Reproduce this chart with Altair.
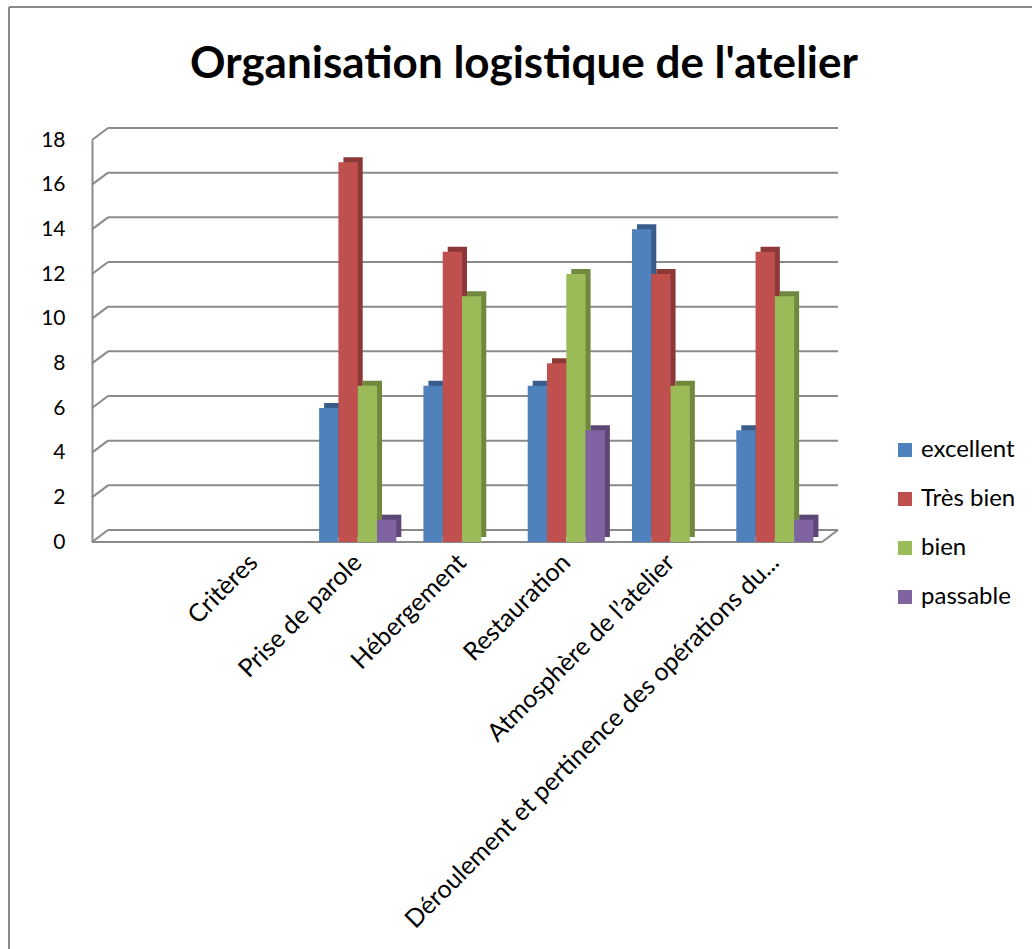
import altair as alt
import pandas as pd

categories = [" ", "Critères", "Prise de parole", "Hébergement", "Restauration",
              "Atmosphère de l’atelier", "Déroulement et pertinence des opérations du..."]
series = ["excellent", "Très bien", "bien", "passable"]
colors = ["#4F81BD", "#C0504D", "#9BBB59", "#8064A2"]
side_colors = ["#385D8A", "#8C3836", "#71893F", "#5C4776"]

# values per series, for categories after "Critères" (None = no bar)
cats_with_data = ["Prise de parole", "Hébergement", "Restauration",
                  "Atmosphère de l’atelier", "Déroulement et pertinence des opérations du..."]
excellent = [6, 7, 7, 14, 5]
tres_bien = [17, 13, 8, 12, 13]
bien = [7, 11, 12, 7, 11]
passable = [1, None, 5, None, 1]

y_ticks = [0, 2, 4, 6, 8, 10, 12, 14, 16, 18]

rows = []
for s, vals in zip(series, [excellent, tres_bien, bien, passable]):
    for c, v in zip(cats_with_data, vals):
        if v is not None:
            rows.append({"cat": c, "serie": s, "val": v})
df = pd.DataFrame(rows)
grid_df = pd.DataFrame({"v": y_ticks})

W, H = 730, 402
DX, DY = 16, -12
SHIFT = 5
P_IN, P_OUT = 0.26, 0.13
STEP = W / (len(categories) - P_IN + 2 * P_OUT)
BW = STEP * (1 - P_IN)
SIDE = 5

x_enc = alt.X("cat:N", sort=categories,
              scale=alt.Scale(domain=categories, paddingInner=P_IN, paddingOuter=P_OUT,
                              range=[SHIFT, W + SHIFT]),
              axis=alt.Axis(title=None, labelAngle=-45, labelAlign="right", labelBaseline="middle",
                            labelFontSize=25, labelFont="Lato", labelColor="#000000", labelPadding=16,
                            ticks=False, domain=False, labelLimit=1000))
y_scale = alt.Scale(domain=[0, 18], nice=False, zero=True)
y_axis = alt.Axis(title=None, values=y_ticks, grid=False, ticks=False, domain=True,
                  domainColor="#8a8a8a", domainWidth=2, labelFontSize=21, labelFont="Lato",
                  labelColor="#000000", labelPadding=27)
grey = "#8a8a8a"

# back-wall gridlines
grid = alt.Chart(grid_df).mark_rule(color=grey, strokeWidth=2, yOffset=DY).encode(
    y=alt.Y("v:Q", scale=y_scale, axis=y_axis),
    x=alt.value(DX), x2=alt.value(W + DX),
)
grid_diag = alt.Chart(grid_df).mark_rule(color=grey, strokeWidth=2, y2Offset=DY).encode(
    y=alt.Y("v:Q", scale=y_scale, axis=y_axis), y2="v:Q",
    x=alt.value(0), x2=alt.value(DX),
)
floor_front = alt.Chart(pd.DataFrame({"v": [0]})).mark_rule(color=grey, strokeWidth=2).encode(
    y=alt.Y("v:Q", scale=y_scale, axis=y_axis), x=alt.value(0), x2=alt.value(W),
)
floor_diag = alt.Chart(pd.DataFrame({"v": [0]})).mark_rule(color=grey, strokeWidth=2, y2Offset=DY).encode(
    y=alt.Y("v:Q", scale=y_scale, axis=y_axis), y2="v:Q", x=alt.value(W), x2=alt.value(W + DX),
)

side = alt.Chart(df).mark_bar(yOffset=-SIDE, y2Offset=-SIDE).encode(
    x=x_enc,
    xOffset=alt.XOffset("serie:N", sort=series,
                        scale=alt.Scale(domain=series, range=[SIDE, BW + SIDE], paddingInner=0, paddingOuter=0)),
    y=alt.Y("val:Q", scale=y_scale, axis=y_axis),
    color=alt.Color("serie:N", scale=alt.Scale(domain=series, range=side_colors), legend=None),
)

bars = alt.Chart(df).mark_bar().encode(
    x=x_enc,
    xOffset=alt.XOffset("serie:N", sort=series,
                        scale=alt.Scale(domain=series, range=[0, BW], paddingInner=0, paddingOuter=0)),
    y=alt.Y("val:Q", scale=y_scale, axis=y_axis),
    color=alt.Color("serie:N", scale=alt.Scale(domain=series, range=colors),
                    legend=alt.Legend(title=None, orient="none", legendX=801, legendY=298,
                                      symbolType="square", symbolSize=196, symbolStrokeWidth=0,
                                      labelFontSize=24, labelFont="Lato", labelColor="#000000",
                                      rowPadding=25, labelOffset=4)),
)

# outer frame of the chart area
frame_top = alt.Chart(pd.DataFrame({"v": [0]})).mark_rule(color=grey, strokeWidth=2).encode(
    x=alt.value(-83), x2=alt.value(1032 - 92), y=alt.value(-133),
)
frame_left = alt.Chart(pd.DataFrame({"v": [0]})).mark_rule(color=grey, strokeWidth=2).encode(
    x=alt.value(-83), y=alt.value(-133), y2=alt.value(949 - 140),
)

chart = alt.layer(frame_top, frame_left, grid, grid_diag, floor_front, floor_diag, side, bars).resolve_scale(
    color="independent", xOffset="independent"
).properties(
    width=W, height=H,
    title=alt.TitleParams("Organisation logistique de l'atelier", font="Lato", fontSize=44,
                          fontWeight="bold", color="#000000", anchor="middle", dx=67, dy=81, offset=0),
    autosize=alt.AutoSizeParams(type="none"),
    padding={"left": 92, "top": 140, "right": 210, "bottom": 407},
).configure_view(stroke=None)

chart.save("out.html", embed_options={"renderer": "svg", "actions": False})
